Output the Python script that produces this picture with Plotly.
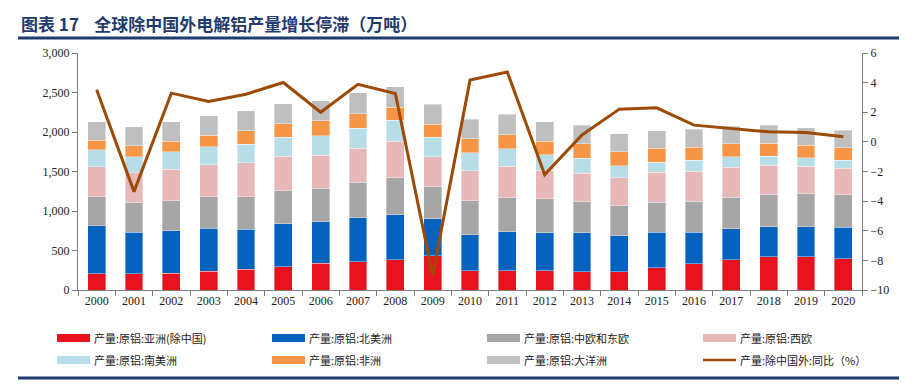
import plotly.graph_objects as go

years = [str(y) for y in range(2000, 2021)]

asia_ex_china = [207, 207, 211, 237, 262, 296, 338, 359, 380, 431, 241, 241, 241, 232, 232, 283, 330, 380, 423, 418, 393]
north_america = [604, 524, 541, 545, 507, 541, 528, 558, 575, 469, 461, 494, 482, 491, 457, 448, 401, 393, 380, 385, 402]
central_east_eu = [368, 372, 376, 397, 410, 418, 423, 448, 465, 410, 426, 432, 431, 397, 376, 381, 393, 402, 402, 414, 410]
west_eu = [381, 381, 398, 406, 431, 436, 414, 427, 461, 376, 381, 401, 363, 359, 359, 376, 381, 376, 376, 347, 334]
south_america = [215, 202, 224, 228, 233, 241, 250, 258, 266, 250, 228, 220, 195, 191, 148, 131, 139, 135, 114, 110, 101]
africa = [118, 140, 135, 144, 173, 173, 190, 182, 169, 165, 178, 178, 169, 181, 178, 173, 165, 165, 165, 160, 160]
oceania = [237, 241, 245, 249, 254, 253, 253, 262, 258, 249, 249, 257, 249, 237, 228, 224, 228, 220, 228, 220, 225]
yoy_ex_china = [3.52, -3.36, 3.29, 2.73, 3.22, 4.01, 2.0, 3.88, 3.27, -9.01, 4.17, 4.71, -2.21, 0.47, 2.21, 2.30, 1.13, 0.90, 0.68, 0.63, 0.34]

series = [
    ("产量:原铝:亚洲(除中国)", asia_ex_china, "#E8131F"),
    ("产量:原铝:北美洲", north_america, "#0563BF"),
    ("产量:原铝:中欧和东欧", central_east_eu, "#A6A6A6"),
    ("产量:原铝:西欧", west_eu, "#E6B9B8"),
    ("产量:原铝:南美洲", south_america, "#B7DDE8"),
    ("产量:原铝:非洲", africa, "#F79646"),
    ("产量:原铝:大洋洲", oceania, "#BFBFBF"),
]
line_name = "产量:除中国外:同比（%）"
line_color = "#9C4A06"

fig = go.Figure()
for name, vals, col in series:
    fig.add_trace(go.Bar(x=years, y=vals, name=name, marker_color=col,
                         marker_line_color="rgba(255,255,255,0.6)", marker_line_width=0.6,
                         showlegend=False))
fig.add_trace(go.Scatter(x=years, y=yoy_ex_china, name=line_name, yaxis="y2",
                         mode="lines", line=dict(color=line_color, width=3),
                         showlegend=False))

tickfont = dict(family="Liberation Serif, Times New Roman, serif", size=12, color="#222222")
fig.update_layout(
    width=907, height=376,
    margin=dict(l=70, r=53, t=45, b=94),
    barmode="stack", bargap=0.52,
    plot_bgcolor="white", paper_bgcolor="white",
    xaxis=dict(type="category", showline=True, linecolor="#808080", linewidth=1,
               ticks="outside", tickson="boundaries", ticklen=5, tickcolor="#808080",
               tickfont=tickfont, showgrid=False),
    yaxis=dict(range=[0, 3000], dtick=500, tickformat=",", showline=True,
               linecolor="#808080", linewidth=1, ticks="outside", ticklen=5,
               tickcolor="#808080", tickfont=tickfont, showgrid=False, zeroline=False),
    yaxis2=dict(range=[-10, 6], dtick=2, overlaying="y", side="right", showline=True,
                linecolor="#808080", linewidth=1, ticks="outside", ticklen=5,
                tickcolor="#808080", tickfont=tickfont, showgrid=False, zeroline=False),
)

# helpers: page pixel -> paper coords (page has 8px body margin)
def px(X):
    return (X - 78) / 784

def py(Y):
    return (290 - Y) / 237

# Title and rules
navy = "#1F3A6E"
fig.add_annotation(xref="paper", yref="paper", x=px(19), y=py(24),
                   xanchor="left", yanchor="middle", showarrow=False,
                   text="<b>图表 17    全球除中国外电解铝产量增长停滞（万吨）</b>",
                   font=dict(family="Noto Sans CJK SC", size=17, color=navy))
fig.add_shape(type="line", xref="paper", yref="paper",
              x0=px(18), x1=px(899), y0=py(38), y1=py(38),
              line=dict(color=navy, width=3))
fig.add_shape(type="line", xref="paper", yref="paper",
              x0=px(18), x1=px(899), y0=py(378), y1=py(378),
              line=dict(color=navy, width=3))

# Manual legend (4 columns x 2 rows)
legend_items = [(s[0], s[2], "bar") for s in series] + [(line_name, line_color, "line")]
col_x = [57, 272, 487, 703]
row_y = [338, 360]
for i, (name, col, kind) in enumerate(legend_items):
    cx = col_x[i % 4]
    cy = row_y[i // 4]
    if kind == "bar":
        fig.add_shape(type="rect", xref="paper", yref="paper", x0=px(cx), x1=px(cx + 33),
                      y0=py(cy + 4), y1=py(cy - 4),
                      fillcolor=col, line=dict(width=0))
    else:
        fig.add_shape(type="line", xref="paper", yref="paper", x0=px(cx), x1=px(cx + 33),
                      y0=py(cy), y1=py(cy),
                      line=dict(color=col, width=2.5))
    fig.add_annotation(xref="paper", yref="paper", x=px(cx + 35),
                       y=py(cy), xanchor="left", yanchor="middle",
                       showarrow=False, text=name,
                       font=dict(family="Noto Sans CJK SC", size=11, color="#222222"))

fig.write_html("out.html")
